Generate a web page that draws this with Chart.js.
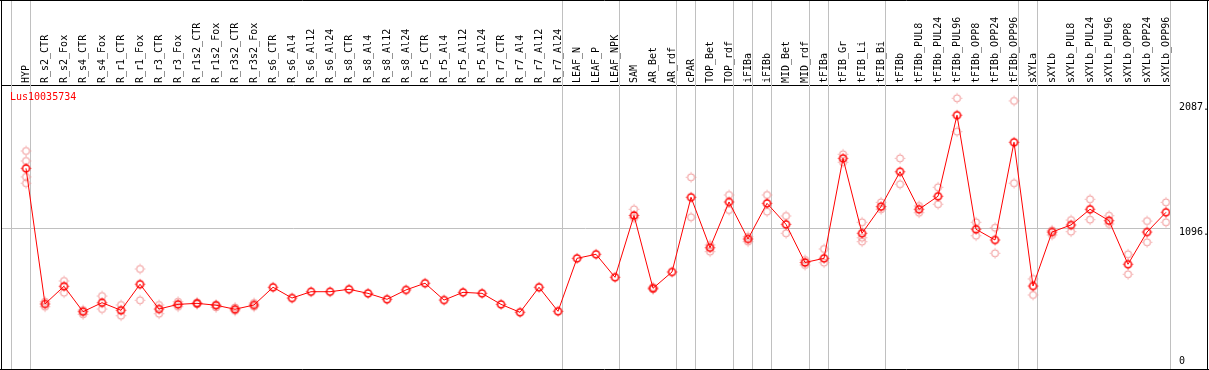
<!DOCTYPE html>
<html>
<head>
<meta charset="utf-8">
<script src="https://cdn.jsdelivr.net/npm/chart.js@4/dist/chart.umd.min.js"></script>
<style>
  html, body { margin: 0; padding: 0; background: #fff; }
  #wrap { width: 1209px; height: 370px; }
</style>
</head>
<body>
<div id="wrap"><canvas id="expr" width="1209" height="370"></canvas></div>
<script>
const geneName = "Lus10035734";

const categories = [
  "HYP","R_s2_CTR","R_s2_Fox","R_s4_CTR","R_s4_Fox","R_r1_CTR","R_r1_Fox","R_r3_CTR","R_r3_Fox",
  "R_r1s2_CTR","R_r1s2_Fox","R_r3s2_CTR","R_r3s2_Fox","R_s6_CTR","R_s6_Al4","R_s6_Al12","R_s6_Al24",
  "R_s8_CTR","R_s8_Al4","R_s8_Al12","R_s8_Al24","R_r5_CTR","R_r5_Al4","R_r5_Al12","R_r5_Al24",
  "R_r7_CTR","R_r7_Al4","R_r7_Al12","R_r7_Al24","LEAF_N","LEAF_P","LEAF_NPK","SAM","AR_Bet","AR_rdf",
  "cPAR","TOP_Bet","TOP_rdf","iFIBa","iFIBb","MID_Bet","MID_rdf","tFIBa","tFIB_Gr","tFIB_Li","tFIB_Bi",
  "tFIBb","tFIBb_PUL8","tFIBb_PUL24","tFIBb_PUL96","tFIBb_OPP8","tFIBb_OPP24","tFIBb_OPP96",
  "sXYLa","sXYLb","sXYLb_PUL8","sXYLb_PUL24","sXYLb_PUL96","sXYLb_OPP8","sXYLb_OPP24","sXYLb_OPP96"
];

const means = [
  1570, 497, 637, 436, 507, 447, 653, 457, 494,
  502, 487, 455, 489, 629, 544, 594, 594,
  613, 581, 534, 608, 661, 528, 589, 581,
  494, 431, 629, 439, 858, 890, 708, 1197, 621, 750,
  1341, 942, 1304, 1011, 1293, 1127, 825, 858, 1649, 1056, 1267,
  1543, 1246, 1349, 1990, 1088, 1003, 1776,
  639, 1066, 1122, 1246, 1156, 811, 1066, 1222
];

const replicates = [
  [1707, 1628, 1502, 1452], [515, 475], [679, 586], [449, 415], [560, 457], [489, 404], [774, 526], [489, 420], [515, 475],
  [510, 495], [489, 470], [470, 443], [505, 475], [], [], [], [],
  [], [], [], [], [], [], [], [],
  [], [], [], [], [], [], [], [1246, 1177], [630, 612], [],
  [1499, 1183], [964, 911], [1359, 1240], [1029, 990], [1359, 1227], [1193, 1056], [845, 805], [932, 824], [1681, 1618], [1143, 1021, 990], [1301, 1246],
  [1649, 1444], [1272, 1219], [1420, 1286], [2124, 1860], [1143, 1037], [1100, 898], [2103, 1452],
  [695, 568], [1080, 1043], [1161, 1069], [1325, 1164], [1195, 1130], [890, 732], [1153, 985], [1301, 1143]
];

// index of the first category of each group (last entry closes the final group)
const groupStarts = [0, 1, 29, 32, 35, 36, 38, 39, 40, 42, 43, 46, 53, 54, 61];

const yTickValues = [0, 1096, 2087];
const yTickLabels = ["0", "1096.", "2087."];

const MONO = "'DejaVu Sans Mono', 'Liberation Mono', monospace";

function makeMarker(color, lw) {
  const c = document.createElement("canvas");
  c.width = 13; c.height = 13;
  const g = c.getContext("2d");
  g.strokeStyle = color;
  g.lineWidth = lw;
  g.beginPath();
  g.arc(6.5, 6.5, 3.5, 0, Math.PI * 2);
  g.stroke();
  g.lineWidth = 1;
  g.beginPath();
  g.moveTo(6.5, 1.5); g.lineTo(6.5, 2.5);
  g.moveTo(6.5, 10.5); g.lineTo(6.5, 11.5);
  g.moveTo(1.5, 6.5); g.lineTo(2.5, 6.5);
  g.moveTo(10.5, 6.5); g.lineTo(11.5, 6.5);
  g.stroke();
  return c;
}

const meanPoints = means.map((v, i) => ({ x: i, y: v }));
const repPoints = [];
replicates.forEach((list, i) => list.forEach(v => repPoints.push({ x: i, y: v })));

const sepShift = 15 / 19;

const decor = {
  id: "decor",
  beforeDatasetsDraw(chart) {
    const { ctx, scales: { x } } = chart;
    ctx.save();
    ctx.strokeStyle = "#c0c0c0";
    ctx.lineWidth = 1;
    groupStarts.forEach(g => {
      const px = Math.round(x.getPixelForValue(g - sepShift)) + 0.5;
      ctx.beginPath();
      ctx.moveTo(px, 0);
      ctx.lineTo(px, chart.height);
      ctx.stroke();
    });
    ctx.restore();
  },
  afterDraw(chart) {
    const { ctx, chartArea, scales: { y } } = chart;
    ctx.save();
    // outer frame
    ctx.strokeStyle = "#000";
    ctx.lineWidth = 1;
    ctx.beginPath();
    ctx.moveTo(0, 0.5); ctx.lineTo(chart.width, 0.5);
    ctx.moveTo(1.5, 0); ctx.lineTo(1.5, chart.height);
    ctx.moveTo(1207.5, 0); ctx.lineTo(1207.5, chart.height);
    ctx.moveTo(0, 369.5); ctx.lineTo(chart.width, 369.5);
    ctx.stroke();
    // gene name
    ctx.fillStyle = "#ff0000";
    ctx.font = "10px " + MONO;
    ctx.textAlign = "left";
    ctx.textBaseline = "middle";
    ctx.fillText(geneName, 10, 97);
    // y labels
    ctx.fillStyle = "#000";
    yTickValues.forEach((v, i) => {
      const py = Math.min(y.getPixelForValue(v) + 4.5, chartArea.bottom - 8);
      ctx.fillText(yTickLabels[i], chartArea.right + 9, py);
    });
    ctx.restore();
  }
};

new Chart(document.getElementById("expr"), {
  type: "line",
  data: {
    datasets: [
      {
        label: "mean",
        data: meanPoints,
        borderColor: "#ff0000",
        borderWidth: 1,
        pointStyle: makeMarker("#ff0000", 1.5),
        pointRadius: 4,
        tension: 0,
        order: 1
      },
      {
        label: "replicates",
        type: "scatter",
        data: repPoints,
        showLine: false,
        pointStyle: makeMarker("#f09090", 1),
        pointRadius: 4,
        order: 2
      }
    ]
  },
  options: {
    responsive: false,
    animation: false,
    layout: { autoPadding: false, padding: { left: 1, right: 0, top: 0, bottom: 1 } },
    plugins: { legend: { display: false }, tooltip: { enabled: false }, title: { display: false } },
    scales: {
      x: {
        type: "linear",
        position: "top",
        min: -1.316,
        max: 61 - sepShift,
        afterBuildTicks(scale) {
          scale.ticks = categories.map((_, i) => ({ value: i }));
        },
        afterFit(scale) {
          scale.height = 85;
          scale.paddingLeft = 0;
          scale.paddingRight = 0;
        },
        grid: { display: false, drawTicks: false },
        border: { display: true, color: "#000", width: 1 },
        ticks: {
          autoSkip: false,
          minRotation: 90,
          maxRotation: 90,
          padding: 2,
          labelOffset: 12,
          color: "#000",
          font: { family: MONO, size: 10, lineHeight: 1.2 },
          callback: v => categories[v]
        }
      },
      y: {
        type: "linear",
        position: "right",
        min: -17.4,
        max: 2229,
        afterBuildTicks(scale) {
          scale.ticks = yTickValues.map(v => ({ value: v }));
        },
        afterFit(scale) {
          scale.width = 39;
          scale.paddingTop = 0;
          scale.paddingBottom = 0;
        },
        border: { display: false },
        grid: {
          drawTicks: false,
          color: ctx => (ctx.tick && ctx.tick.value === 1096 ? "#c0c0c0" : "rgba(0,0,0,0)"),
          lineWidth: 1
        },
        ticks: { display: false }
      }
    }
  },
  plugins: [decor]
});
</script>
</body>
</html>
